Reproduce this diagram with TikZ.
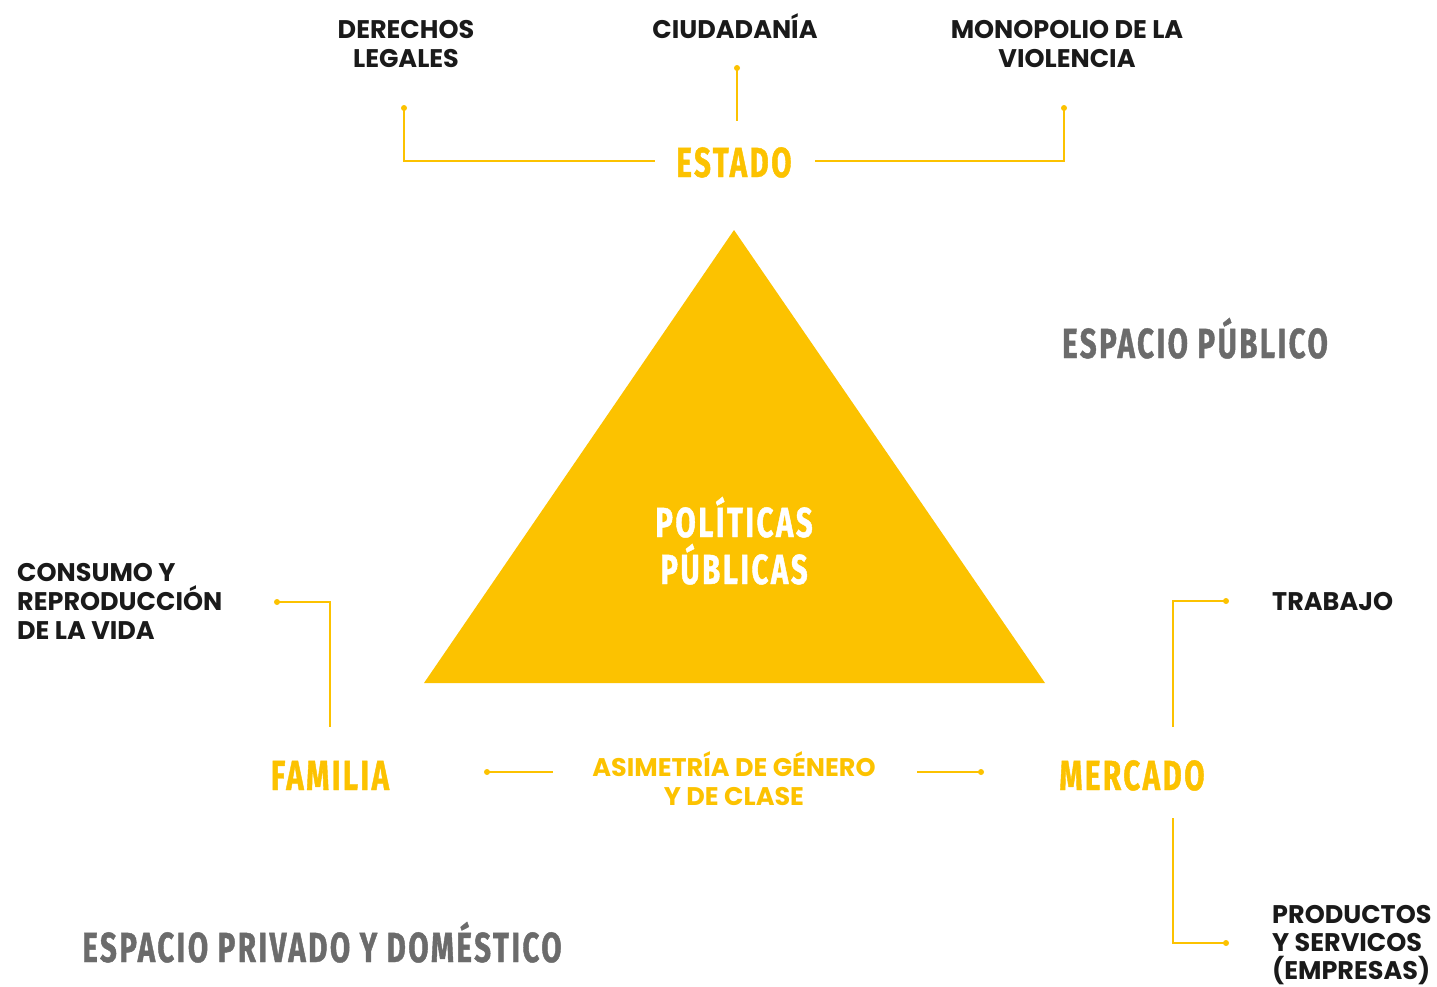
\documentclass[tikz,border=0pt]{standalone}
\usepackage{fontspec}
\newfontfamily\labfont{Poppins}
\newfontfamily\headfont[FakeStretch=0.70,LetterSpace=6,FakeBold=1]{Fira Sans}
\definecolor{ylw}{HTML}{FCC200}
\definecolor{gry}{HTML}{6B6B6B}
\definecolor{blk}{HTML}{1A1A1A}
\begin{document}
\begin{tikzpicture}[x=1pt,y=-1pt,
  lab/.style={font=\labfont\bfseries\fontsize{25.5}{29}\selectfont, text=blk, align=center, inner sep=0},
  labl/.style={lab, align=left},
  ylab/.style={lab, text=ylw},
  head/.style={font=\headfont\bfseries\fontsize{42}{47}\selectfont, text=ylw, inner sep=0, anchor=base},
  ghead/.style={head, text=gry},
  conn/.style={draw=ylw, line width=1.5pt},
  dot/.style={circle, fill=ylw, inner sep=0, minimum size=6pt}]
\useasboundingbox (0,0) rectangle (1437,986);
% triangle
\fill[ylw] (734,230) -- (1045,683) -- (424,683) -- cycle;
% texts
\node[lab, anchor=base] (der) at (406,67) {DERECHOS\\LEGALES};
\node[lab, anchor=base] (ciu) at (735,38) {CIUDADANÍA};
\node[lab, anchor=base] (mon) at (1067,67) {MONOPOLIO DE LA\\VIOLENCIA};
\node[head] (estado) at (734,177) {ESTADO};
\node[ghead] (pub) at (1195,358) {ESPACIO PÚBLICO};
\node[head, text=white] (pol) at (734,537) {POLÍTICAS};
\node[head, text=white] (pub2) at (734,584) {PÚBLICAS};
\node[labl, anchor=base west] (cons) at (17,639) {CONSUMO Y\\REPRODUCCIÓN\\DE LA VIDA};
\node[head] (fam) at (330,790) {FAMILIA};
\node[ylab, anchor=base] (asi) at (734,805) {ASIMETRÍA DE GÉNERO\\Y DE CLASE};
\node[head] (mer) at (1132,790) {MERCADO};
\node[labl, anchor=base west] (tra) at (1272,610) {TRABAJO};
\node[labl, anchor=base west, font=\labfont\bfseries\fontsize{25.5}{28}\selectfont] (prod) at (1272,979) {PRODUCTOS\\Y SERVICOS\\(EMPRESAS)};
\node[ghead] (priv) at (322,962) {ESPACIO PRIVADO Y DOMÉSTICO};
% connector coordinates
\coordinate (d1) at (404,108);
\coordinate (e1) at (655,161);
\coordinate (e2) at (815,161);
\coordinate (d2) at (1064,108);
\coordinate (d3) at (737,68);
\coordinate (e3) at (737,121);
\coordinate (d4) at (277,602);
\coordinate (f1) at (330,727);
\coordinate (m1) at (1173,727);
\coordinate (d5) at (1226,601);
\coordinate (m2) at (1173,818);
\coordinate (d6) at (1226,943);
\coordinate (a1) at (553,772);
\coordinate (d7) at (487,772);
\coordinate (a2) at (917,772);
\coordinate (d8) at (981,772);
% connectors
\draw[conn] (d1) |- (e1);
\draw[conn] (e2) -| (d2);
\draw[conn] (d3) -- (e3);
\draw[conn] (d4) -| (f1);
\draw[conn] (m1) |- (d5);
\draw[conn] (m2) |- (d6);
\draw[conn] (a1) -- (d7);
\draw[conn] (a2) -- (d8);
\foreach \p in {d1,d2,d3,d4,d5,d6,d7,d8} \node[dot] at (\p) {};
\end{tikzpicture}
\end{document}
